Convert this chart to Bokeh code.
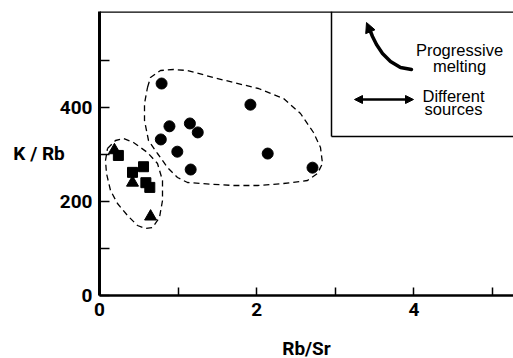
from bokeh.plotting import figure
from bokeh.models import Range1d, FixedTicker, Label, Arrow, NormalHead, Span
from bokeh.embed import file_html
from bokeh.resources import INLINE

# ---- data ----
circle_rbsr = [0.79, 0.89, 0.78, 1.15, 1.25, 0.99, 1.16, 1.92, 2.14, 2.71]
circle_krb = [451, 360, 332, 366, 347, 306, 268, 406, 302, 272]
square_rbsr = [0.24, 0.42, 0.56, 0.59, 0.64]
square_krb = [298, 262, 274, 240, 230]
triangle_rbsr = [0.19, 0.42, 0.65]
triangle_krb = [309, 240, 168]

x_ticks = [0, 1, 2, 3, 4, 5]
x_labels = {0: "0", 2: "2", 4: "4"}
y_ticks = [0, 100, 200, 300, 400, 500]
y_labels = {0: "0", 200: "200", 400: "400"}

# envelopes (pixel outlines of the dashed fields, converted to data below)
big_env_px = [(147, 87), (150, 77), (160, 70), (173, 69), (187, 70), (213, 77), (233, 82),
              (258, 88), (283, 98), (300, 113), (313, 132), (320, 147), (322, 163),
              (317, 173), (307, 180), (283, 183), (257, 185), (233, 185), (200, 183),
              (187, 182), (177, 177), (167, 167), (157, 153), (148, 140), (144, 120),
              (144, 103), (147, 87)]
small_env_px = [(107, 148), (115, 140), (123, 138), (133, 142), (147, 152), (157, 163),
                (162, 180), (162, 200), (159, 217), (152, 227), (145, 228), (137, 225),
                (127, 215), (117, 203), (110, 190), (106, 173), (105, 160), (107, 148)]

# ---- geometry ----
X0_PX, XU = 99.0, 78.6    # x=0 pixel, px per unit
Y0_PX, YU = 295.0, 0.47   # y=0 pixel, px per unit
FRAME_W, FRAME_H = 414, 284
x_end = FRAME_W / XU
y_end = FRAME_H / YU


def px2x(px):
    return (px - X0_PX) / XU


def px2y(py):
    return (Y0_PX - py) / YU


p = figure(frame_width=FRAME_W, frame_height=FRAME_H,
           min_border_left=99, min_border_right=0, min_border_top=11, min_border_bottom=55,
           x_range=Range1d(0, x_end), y_range=Range1d(0, y_end),
           output_backend="svg", toolbar_location=None,
           background_fill_color="white", border_fill_color="white")
p.grid.visible = False
p.outline_line_color = None

TICK_FONT = "Roboto"

for ax, ticks, labels in ((p.xaxis[0], x_ticks, x_labels), (p.yaxis[0], y_ticks, y_labels)):
    ax.ticker = FixedTicker(ticks=ticks)
    ax.major_label_overrides = {t: labels.get(t, "") for t in ticks}
    ax.minor_tick_line_color = None
    ax.major_tick_out = 0
    ax.major_tick_line_color = "black"
    ax.major_tick_line_width = 1.5
    ax.axis_line_color = "black"
    ax.major_label_text_font = TICK_FONT
    ax.major_label_text_font_style = "bold"
    ax.major_label_text_font_size = "19px"
    ax.major_label_text_color = "black"
    ax.major_label_standoff = 7
    ax.axis_label_text_font = TICK_FONT
    ax.axis_label_text_font_style = "bold"
    ax.axis_label_text_font_size = "19px"
    ax.axis_label_text_color = "black"

p.xaxis.major_tick_in = 8
p.yaxis.major_tick_in = 10
p.xaxis.axis_line_width = 2.5
p.yaxis.axis_line_width = 3

p.yaxis.axis_label = "K / Rb"
p.yaxis.axis_label_orientation = "horizontal"
p.yaxis.axis_label_standoff = -8
p.xaxis.axis_label = "Rb/Sr"
p.xaxis.axis_label_standoff = 18

# top border
p.add_layout(Span(location=y_end, dimension="width", line_color="black", line_width=2.5))

# envelopes
p.line([px2x(a) for a, b in big_env_px], [px2y(b) for a, b in big_env_px],
       line_color="black", line_width=1.3, line_dash="6 4")
p.line([px2x(a) for a, b in small_env_px], [px2y(b) for a, b in small_env_px],
       line_color="black", line_width=1.3, line_dash="6 4")

# data points
p.scatter(circle_rbsr, circle_krb, marker="circle", size=11, color="black")
p.scatter(square_rbsr, square_krb, marker="square", size=10, color="black")
p.scatter(triangle_rbsr, triangle_krb, marker="triangle", size=12, color="black")

# legend box (left and bottom sides)
p.line([px2x(331), px2x(331)], [px2y(11), px2y(136)], line_color="black", line_width=1.5)
p.line([px2x(331), x_end], [px2y(136), px2y(136)], line_color="black", line_width=1.5)

# curved arrow (progressive melting)
curve_px = [(411, 69), (400, 67), (390, 61), (382, 53), (376, 44), (372, 36), (370, 31)]
p.line([px2x(a) for a, b in curve_px], [px2y(b) for a, b in curve_px],
       line_color="black", line_width=3.5, line_cap="round")
p.add_layout(Arrow(end=NormalHead(size=10, fill_color="black", line_color="black"),
                   x_start=px2x(371), y_start=px2y(34), x_end=px2x(366), y_end=px2y(22),
                   line_color="black", line_width=2))

# double arrow (different sources)
p.add_layout(Arrow(start=NormalHead(size=8, fill_color="black", line_color="black"),
                   end=NormalHead(size=8, fill_color="black", line_color="black"),
                   x_start=px2x(354), y_start=px2y(99), x_end=px2x(413), y_end=px2y(99),
                   line_color="black", line_width=2.5))

LEG_FONT = "Liberation Sans"
for txt, cx, cy in (("Progressive", 459, 49), ("melting", 459, 65),
                    ("Different", 453, 95), ("sources", 453, 108)):
    p.add_layout(Label(x=px2x(cx), y=px2y(cy), text=txt, text_align="center",
                       text_baseline="middle", text_font=LEG_FONT,
                       text_font_size="16.5px", text_color="black"))

open("out.html", "w").write(file_html(p, INLINE))
